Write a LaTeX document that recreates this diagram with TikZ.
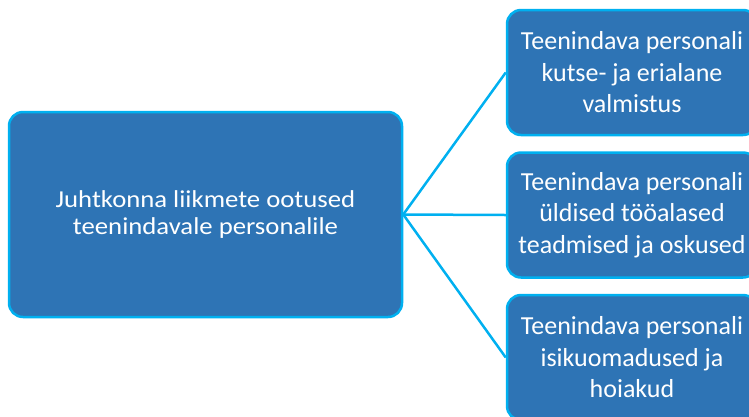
\documentclass[tikz,border=0pt]{standalone}
\usepackage{fontspec}
\setmainfont{Carlito}
\newfontfamily\widefont[FakeStretch=1.1]{Carlito}
\definecolor{boxfill}{HTML}{2E74B5}
\definecolor{boxline}{HTML}{00B0F0}
\begin{document}
\begin{tikzpicture}[x=1pt,y=-1pt,
  box/.style={draw=boxline,fill=boxfill,line width=2.5pt,rounded corners=14pt,
    text=white,align=center,inner sep=0pt},
  small/.style={box,minimum width=250pt,minimum height=125pt,font=\fontsize{26}{31.5}\selectfont},
  conn/.style={draw=boxline,line width=2.5pt}]
\useasboundingbox (0,0) rectangle (749,416);
\clip (0,0) rectangle (749,416);
\node[box,minimum width=393pt,minimum height=205pt,font=\widefont\fontsize{24.3}{27.5}\selectfont] (main) at (205.5,214.5)
  {Juhtkonna liikmete ootused\\teenindavale personalile};
\node[small] (b1) at (632,72.5)
  {Teenindava personali\\kutse- ja erialane\\valmistus};
\node[small] (b2) at (632,215)
  {Teenindava personali\\üldised tööalased\\teadmised ja oskused};
\node[small] (b3) at (632,357.5)
  {Teenindava personali\\isikuomadused ja\\hoiakud};
\draw[conn] (main.east) -- (b1.west);
\draw[conn] (main.east) -- (b2.west);
\draw[conn] (main.east) -- (b3.west);
\end{tikzpicture}
\end{document}
